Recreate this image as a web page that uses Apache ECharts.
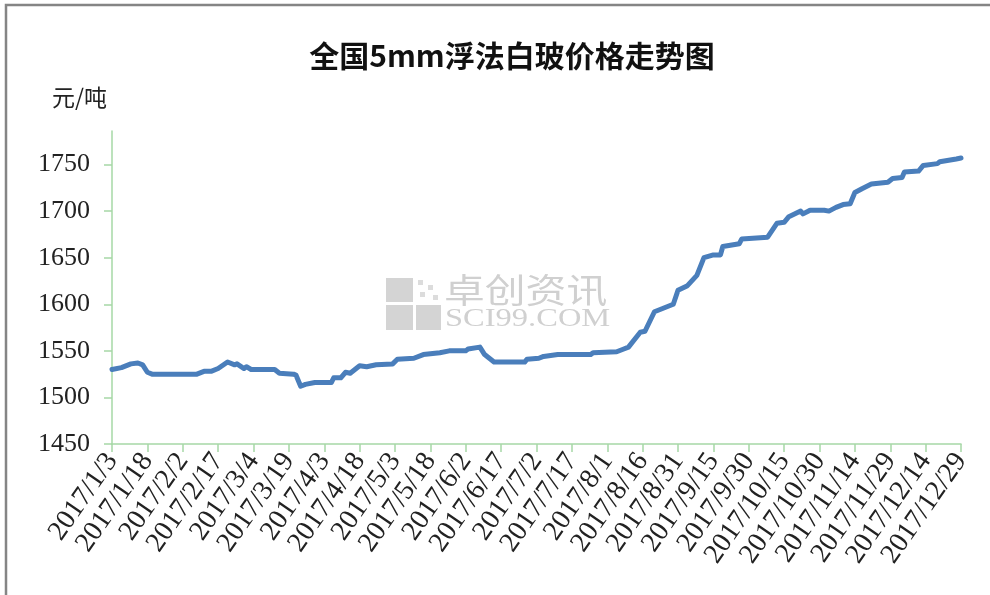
<!DOCTYPE html>
<html>
<head>
<meta charset="utf-8">
<title>全国5mm浮法白玻价格走势图</title>
<script src="https://cdn.jsdelivr.net/npm/echarts@6/dist/echarts.min.js"></script>
<style>
  html, body { margin: 0; padding: 0; background: #fff; }
  #chart { width: 990px; height: 595px; }
</style>
</head>
<body>
<div id="chart"></div>
<script>
// 价格拐点（日期 -> 元/吨）
const priceDates = [
  '2017/1/3', '2017/1/7', '2017/1/11', '2017/1/14', '2017/1/16', '2017/1/18', '2017/1/20',
  '2017/2/8', '2017/2/11', '2017/2/14', '2017/2/17', '2017/2/21', '2017/2/24', '2017/2/25',
  '2017/2/28', '2017/3/1', '2017/3/3', '2017/3/13', '2017/3/15', '2017/3/21', '2017/3/22',
  '2017/3/24', '2017/3/26', '2017/3/30', '2017/4/6', '2017/4/7', '2017/4/10', '2017/4/12',
  '2017/4/14', '2017/4/18', '2017/4/21', '2017/4/25', '2017/5/2', '2017/5/4', '2017/5/11',
  '2017/5/15', '2017/5/22', '2017/5/26', '2017/6/2', '2017/6/3', '2017/6/8', '2017/6/10',
  '2017/6/12', '2017/6/14', '2017/6/27', '2017/6/28', '2017/7/3', '2017/7/5', '2017/7/11',
  '2017/7/25', '2017/7/26', '2017/8/5', '2017/8/8', '2017/8/10', '2017/8/15', '2017/8/17',
  '2017/8/21', '2017/8/25', '2017/8/29', '2017/8/31', '2017/9/4', '2017/9/8', '2017/9/11',
  '2017/9/15', '2017/9/18', '2017/9/19', '2017/9/26', '2017/9/27', '2017/10/8', '2017/10/12',
  '2017/10/15', '2017/10/17', '2017/10/22', '2017/10/23', '2017/10/26', '2017/11/1', '2017/11/3',
  '2017/11/6', '2017/11/9', '2017/11/12', '2017/11/14', '2017/11/17', '2017/11/21', '2017/11/28',
  '2017/11/30', '2017/12/4', '2017/12/5', '2017/12/11', '2017/12/13', '2017/12/19', '2017/12/20',
  '2017/12/27', '2017/12/29'
]
const priceValues = [
  1530, 1532, 1536, 1537, 1535, 1527, 1525,
  1525, 1528, 1528, 1531, 1538, 1535, 1536,
  1531, 1533, 1530, 1530, 1526, 1525, 1524,
  1512, 1514, 1516, 1516, 1521, 1521, 1527,
  1526, 1534, 1533, 1535, 1536, 1541, 1542,
  1546, 1548, 1550, 1550, 1552, 1554, 1546,
  1542, 1538, 1538, 1541, 1542, 1544, 1546,
  1546, 1548, 1549, 1552, 1554, 1570, 1571,
  1592, 1596, 1600, 1615, 1620, 1631, 1650,
  1653, 1653, 1662, 1665, 1670, 1672, 1687,
  1688, 1694, 1700, 1697, 1701, 1701, 1700,
  1704, 1707, 1708, 1720, 1724, 1729, 1731,
  1735, 1736, 1742, 1743, 1749, 1751, 1753,
  1756, 1757
]
const yTicks = [1450, 1500, 1550, 1600, 1650, 1700, 1750]

// 横轴：2017/1/3 到 2017/12/29 的每一天
const days = []
for (let d = new Date(2017, 0, 3); d <= new Date(2017, 11, 29); d.setDate(d.getDate() + 1)) {
  days.push(d.getFullYear() + '/' + (d.getMonth() + 1) + '/' + d.getDate())
}

const axisGreen = '#a6d8a6'
const serif = '"Liberation Serif", "Times New Roman", serif'

const myChart = echarts.init(document.getElementById('chart'))
const option = {
  backgroundColor: '#fff',
  animation: false,
  grid: {
    left: 112,
    right: 29,
    top: 131,
    bottom: 151
  },
  xAxis: {
    type: 'category',
    boundaryGap: false,
    data: days,
    axisLine: { lineStyle: { color: axisGreen, width: 1.5 } },
    axisTick: {
      interval: 14,
      length: 8,
      lineStyle: { color: axisGreen, width: 1.5 }
    },
    axisLabel: {
      interval: 14,
      rotate: 55,
      margin: 12,
      color: '#222',
      fontFamily: serif,
      fontSize: 28
    },
    splitLine: { show: false }
  },
  yAxis: {
    type: 'value',
    min: 1450,
    max: 1786,
    interval: 50,
    axisLine: { show: true, lineStyle: { color: axisGreen, width: 1.5 } },
    axisTick: {
      show: true,
      length: 8,
      customValues: yTicks,
      lineStyle: { color: axisGreen, width: 1.5 }
    },
    axisLabel: {
      customValues: yTicks,
      formatter: v => String(v),
      margin: 22,
      color: '#222',
      fontFamily: serif,
      fontSize: 26
    },
    splitLine: { show: false }
  },
  graphic: [
    {
      type: 'polyline',
      shape: { points: [[6, 595], [6, 5], [990, 5]] },
      style: { stroke: '#858585', lineWidth: 2.5, fill: null },
      silent: true
    },
    {
      type: 'text',
      x: 512,
      y: 56,
      style: {
        text: '全国5mm浮法白玻价格走势图',
        fontFamily: '"Noto Sans CJK SC", sans-serif',
        fontSize: 30,
        fontWeight: 'bold',
        fill: '#111',
        textAlign: 'center',
        textVerticalAlign: 'middle'
      }
    },
    {
      type: 'text',
      x: 52,
      y: 97,
      style: {
        text: '元/吨',
        fontFamily: '"Noto Sans CJK SC", sans-serif',
        fontSize: 23,
        fill: '#222',
        textVerticalAlign: 'middle'
      }
    },
    // 水印
    { type: 'rect', shape: { x: 386, y: 278, width: 27, height: 24 }, style: { fill: '#d4d4d4' }, z: -1 },
    { type: 'rect', shape: { x: 386, y: 305, width: 27, height: 25 }, style: { fill: '#d4d4d4' }, z: -1 },
    { type: 'rect', shape: { x: 416, y: 305, width: 25, height: 25 }, style: { fill: '#d4d4d4' }, z: -1 },
    { type: 'rect', shape: { x: 418, y: 280, width: 5, height: 5 }, style: { fill: '#dcdcdc' }, z: -1 },
    { type: 'rect', shape: { x: 428, y: 285, width: 5, height: 5 }, style: { fill: '#dcdcdc' }, z: -1 },
    { type: 'rect', shape: { x: 420, y: 292, width: 5, height: 5 }, style: { fill: '#dcdcdc' }, z: -1 },
    { type: 'rect', shape: { x: 433, y: 295, width: 5, height: 5 }, style: { fill: '#dcdcdc' }, z: -1 },
    {
      type: 'text',
      x: 444,
      y: 290,
      scaleX: 1.2,
      z: -1,
      style: {
        text: '卓创资讯',
        fontFamily: '"Noto Sans CJK SC", sans-serif',
        fontSize: 34,
        fill: '#d0d0d0',
        textVerticalAlign: 'middle'
      }
    },
    {
      type: 'text',
      x: 445,
      y: 319,
      scaleX: 1.3,
      z: -1,
      style: {
        text: 'SCI99.COM',
        fontFamily: serif,
        fontSize: 25,
        fill: '#d0d0d0',
        textVerticalAlign: 'middle'
      }
    }
  ],
  series: [
    {
      name: '价格',
      type: 'line',
      showSymbol: false,
      data: priceDates.map((d, i) => [d, priceValues[i]]),
      lineStyle: { color: '#4a7ebb', width: 5, cap: 'round', join: 'round' },
      itemStyle: { color: '#4a7ebb' }
    }
  ]
}
myChart.setOption(option)
</script>
</body>
</html>
